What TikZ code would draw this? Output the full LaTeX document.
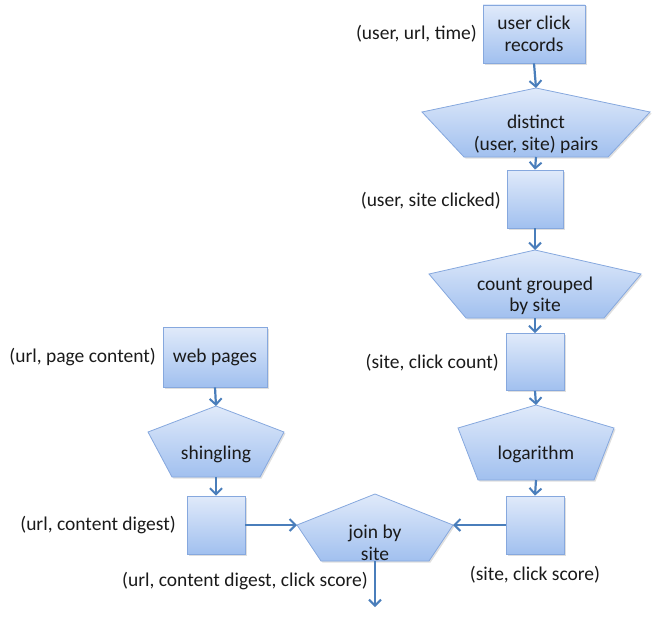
\documentclass[tikz,border=0pt]{standalone}
\usepackage{fontspec}
\setmainfont{Carlito}
\usetikzlibrary{arrows.meta,shadows}
\definecolor{arr}{HTML}{4A7EBB}
\definecolor{topc}{HTML}{E0EAFA}
\definecolor{botc}{HTML}{A1C0EF}
\definecolor{edge}{HTML}{86A8DE}
\definecolor{ink}{HTML}{1A1A1A}
\tikzset{
  shapefill/.style={draw=edge, line width=0.8pt, top color=topc, bottom color=botc,
    drop shadow={opacity=0.25, shadow xshift=1.5pt, shadow yshift=-1.5pt}},
  boxnode/.style={shapefill, rectangle, inner sep=0pt, align=center, text=ink, font=\fontsize{19.5}{21.5}\selectfont},
  txt/.style={align=center, inner sep=0pt, text=ink, font=\fontsize{19.5}{21.5}\selectfont},
  lbl/.style={anchor=east, inner sep=0pt, text=ink, font=\fontsize{19.5}{21.5}\selectfont},
  flow/.style={draw=arr, line width=2.2pt, -{Straight Barb[length=6pt,width=12pt,line width=2pt]}}
}
% name, cx, apexY, shoulderY, bottomY, half shoulder, half bottom, text
\newcommand\mypent[8]{%
  \path[shapefill] (#2,#3) -- (#2+#6,#4) -- (#2+#7,#5) -- (#2-#7,#5) -- (#2-#6,#4) -- cycle;
  \coordinate (#1-t) at (#2,#3);
  \coordinate (#1-b) at (#2,#5);
  \coordinate (#1-l) at (#2-#6,#4);
  \coordinate (#1-r) at (#2+#6,#4);
  \node[txt] (#1) at (#2,{(#4+#5)/2}) {#8};
}
\begin{document}
\begin{tikzpicture}[x=1pt,y=-1pt]
\useasboundingbox (0,0) rectangle (652,618);

% right column
\node[boxnode, minimum width=102pt, minimum height=58pt] (ucr) at (534,34) {user click\\records};
\mypent{dist}{536}{88}{112}{157}{114}{72}{distinct\\(user, site) pairs}
\node[boxnode, minimum width=56pt, minimum height=58pt] (usc) at (535,199) {};
\mypent{cnt}{535}{250}{274}{318}{106}{69}{count grouped\\by site}
\node[boxnode, minimum width=58pt, minimum height=57pt] (scc) at (535,362) {};
\mypent{log}{536}{405}{428}{480}{78}{58}{logarithm}
\node[boxnode, minimum width=58pt, minimum height=58pt] (scs) at (535,525) {};

% left column
\node[boxnode, minimum width=104pt, minimum height=60pt] (web) at (215,357) {web pages};
\mypent{shg}{216}{406}{432}{477}{68}{44}{shingling}
\node[boxnode, minimum width=58pt, minimum height=58pt] (ucd) at (216,525) {};

% join
\mypent{join}{375}{494}{525}{561}{78}{54}{join by\\site}
\coordinate (out) at (375,607);

% labels
\node[lbl] (l1) at (477,34) {(user, url, time)};
\node[lbl] (l2) at (501,201) {(user, site clicked)};
\node[lbl] (l3) at (499,363) {(site, click count)};
\node[lbl] (l4) at (156,357) {(url, page content)};
\node[lbl] (l5) at (176,525) {(url, content digest)};
\node[txt] (l6) at (535,575) {(site, click score)};
\node[txt] (l7) at (245,581) {(url, content digest, click score)};

% connectors
\draw[flow] (ucr.south) -- (dist-t);
\draw[flow] (dist-b) -- (usc.north);
\draw[flow] (usc.south) -- (cnt-t);
\draw[flow] (cnt-b) -- (scc.north);
\draw[flow] (scc.south) -- (log-t);
\draw[flow] (log-b) -- (scs.north);
\draw[flow] (web.south) -- (shg-t);
\draw[flow] (shg-b) -- (ucd.north);
\draw[flow] (ucd.east) -- (join-l);
\draw[flow] (scs.west) -- (join-r);
\draw[flow] (join-b) -- (out);
\end{tikzpicture}
\end{document}
